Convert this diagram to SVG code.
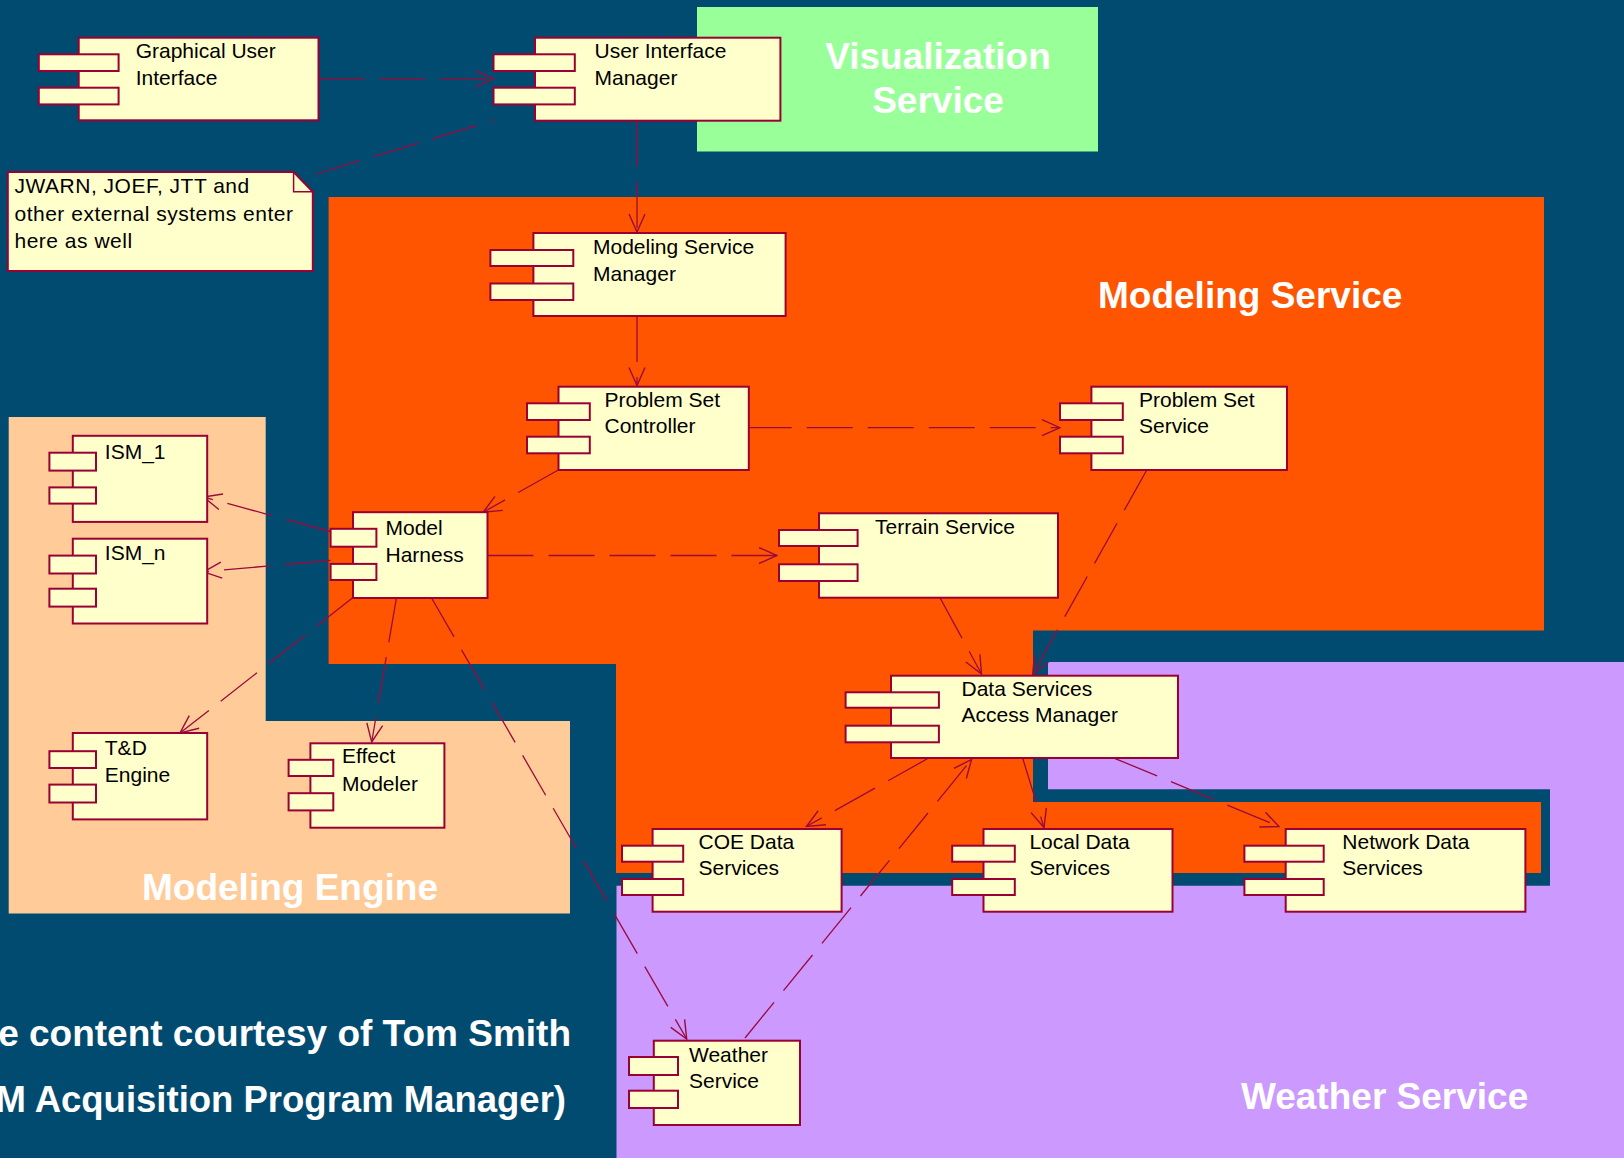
<svg xmlns="http://www.w3.org/2000/svg" width="1624" height="1158" viewBox="0 0 1624 1158">
<defs>
<style>
.box{fill:#FFFFCC;stroke:#990033;stroke-width:2}
.t{font-family:"Liberation Sans",Arial,sans-serif;font-size:21px;fill:#000}
.note{font-family:"Liberation Sans",Arial,sans-serif;font-size:21px;fill:#000;letter-spacing:0.5px}
.region{font-family:"Liberation Sans",Arial,sans-serif;font-weight:bold;fill:#FFFFFF}
.c{fill:none;stroke:#9B0A3C;stroke-width:1.3;stroke-dasharray:46 15}
.ca{fill:none;stroke:#9B0A3C;stroke-width:1.3;stroke-dasharray:46 15;marker-end:url(#arr)}
</style>
<marker id="arr" viewBox="0 0 20 18" refX="19" refY="9" markerWidth="20" markerHeight="18" markerUnits="userSpaceOnUse" orient="auto">
<path d="M1,1 L19,9 L1,17" fill="none" stroke="#9B0A3C" stroke-width="1.4"/>
</marker>
</defs>

<rect x="0" y="0" width="1624" height="1158" fill="#024B70"/>

<g id="regions">
<rect id="visualization-region" x="697" y="7" width="401" height="144.5" fill="#99FF99"/>
<polygon id="modeling-service-region" points="328.6,197 1544,197 1544,630.5 1033,630.5 1033,802 1541,802 1541,873 616,873 616,664 328.6,664" fill="#FF5500"/>
<polygon id="weather-region" points="1048,662 1624,662 1624,1158 616.5,1158 616.5,885.7 1550,885.7 1550,789.3 1048,789.3" fill="#CC99FF"/>
<polygon id="modeling-engine-region" points="8.7,417 265.7,417 265.7,721 570,721 570,913.5 8.7,913.5" fill="#FFCC99"/>
<text class="region" x="938" y="69" font-size="37" text-anchor="middle">Visualization</text>
<text class="region" x="938" y="112.7" font-size="37" text-anchor="middle">Service</text>
<text class="region" x="1098" y="308" font-size="37">Modeling Service</text>
<text class="region" x="142" y="900" font-size="37">Modeling Engine</text>
<text class="region" x="1241" y="1109" font-size="37">Weather Service</text>
<text class="region" x="571" y="1045.7" font-size="37" text-anchor="end">e content courtesy of Tom Smith</text>
<text class="region" x="566" y="1111.7" font-size="36.5" text-anchor="end">M Acquisition Program Manager)</text>
</g>

<g id="connectors">
<line class="ca" x1="318.5" y1="78.7" x2="493.5" y2="78.7"/>
<line class="c" x1="316" y1="174" x2="494.5" y2="120"/>
<line class="ca" x1="637" y1="120.7" x2="637" y2="232"/>
<line class="ca" x1="637" y1="316" x2="637" y2="385.5"/>
<line class="ca" x1="745.7" y1="427.7" x2="1060" y2="427.7"/>
<line class="ca" x1="558.3" y1="470" x2="483.2" y2="512.2"/>
<line class="ca" x1="330.6" y1="531.5" x2="203.6" y2="497"/>
<line class="ca" x1="330.6" y1="560.4" x2="203.6" y2="571.8"/>
<line class="ca" x1="353" y1="597.6" x2="180" y2="733"/>
<line class="ca" x1="396.6" y1="597" x2="371.7" y2="742"/>
<line class="ca" x1="487.5" y1="555.5" x2="777" y2="555.5"/>
<line class="ca" x1="431" y1="597" x2="686.7" y2="1039"/>
<line class="ca" x1="940" y1="597.7" x2="981.5" y2="674"/>
<line class="ca" x1="1146.8" y1="470" x2="1032.7" y2="674"/>
<line class="ca" x1="928.2" y1="758.3" x2="806.4" y2="826.5"/>
<line class="ca" x1="1022.7" y1="758.3" x2="1044" y2="827.5"/>
<line class="ca" x1="1114.6" y1="758.3" x2="1279" y2="826.5"/>
<line class="ca" x1="745" y1="1038" x2="971.5" y2="759.5"/>
</g>

<g id="gui">
<rect class="box" x="78.7" y="37.7" width="239.8" height="82.6"/>
<rect class="box" x="38.8" y="54.3" width="79.8" height="16.7"/>
<rect class="box" x="38.8" y="87.7" width="79.8" height="16.7"/>
<text class="t" x="135.7" y="58">Graphical User</text>
<text class="t" x="135.7" y="85">Interface</text>
</g>

<g id="uim">
<rect class="box" x="535" y="37.7" width="245.4" height="83"/>
<rect class="box" x="493.5" y="54.3" width="81.3" height="16.7"/>
<rect class="box" x="493.5" y="87.7" width="81.3" height="16.7"/>
<text class="t" x="594.5" y="58">User Interface</text>
<text class="t" x="594.5" y="85">Manager</text>
</g>

<g id="note">
<path class="box" d="M7.8,172 L293.6,172 L312.8,191.7 L312.8,271 L7.8,271 Z"/>
<path d="M293.6,172 L293.6,191.7 L312.8,191.7" fill="none" stroke="#990033" stroke-width="1.5"/>
<text class="note" x="14.5" y="193">JWARN, JOEF, JTT and</text>
<text class="note" x="14.5" y="220.5">other external systems enter</text>
<text class="note" x="14.5" y="248">here as well</text>
</g>

<g id="msm">
<rect class="box" x="533.4" y="233" width="252.2" height="83"/>
<rect class="box" x="490.4" y="250" width="82.9" height="16"/>
<rect class="box" x="490.4" y="283.5" width="82.9" height="16.5"/>
<text class="t" x="593" y="253.5">Modeling Service</text>
<text class="t" x="593" y="280.5">Manager</text>
</g>

<g id="psc">
<rect class="box" x="558.5" y="386.7" width="190.3" height="83.3"/>
<rect class="box" x="527" y="403.3" width="62.8" height="16.7"/>
<rect class="box" x="527" y="436.7" width="62.8" height="16.6"/>
<text class="t" x="604.5" y="406.7">Problem Set</text>
<text class="t" x="604.5" y="433.3">Controller</text>
</g>

<g id="pss">
<rect class="box" x="1091.4" y="386.7" width="195.6" height="83.3"/>
<rect class="box" x="1060" y="403.3" width="62.8" height="16.7"/>
<rect class="box" x="1060" y="436.7" width="62.8" height="16.6"/>
<text class="t" x="1139" y="406.7">Problem Set</text>
<text class="t" x="1139" y="433.3">Service</text>
</g>

<g id="terrain">
<rect class="box" x="819" y="513.3" width="239" height="84.4"/>
<rect class="box" x="779" y="530" width="78.6" height="16"/>
<rect class="box" x="779" y="564.3" width="78.6" height="16.7"/>
<text class="t" x="875" y="534">Terrain Service</text>
</g>

<g id="model-harness">
<rect class="box" x="353" y="512.2" width="134.5" height="85.8"/>
<rect class="box" x="330.6" y="528.8" width="45.8" height="17.9"/>
<rect class="box" x="330.6" y="563.9" width="45.8" height="16.1"/>
<text class="t" x="385.5" y="534.5">Model</text>
<text class="t" x="385.5" y="561.5">Harness</text>
</g>

<g id="ism-1">
<rect class="box" x="72.8" y="435.8" width="134.4" height="86.1"/>
<rect class="box" x="49.4" y="452.7" width="46.6" height="17.9"/>
<rect class="box" x="49.4" y="487.4" width="46.6" height="16.2"/>
<text class="t" x="104.8" y="459">ISM_1</text>
</g>

<g id="ism-n">
<rect class="box" x="72.8" y="538.7" width="134.4" height="84.8"/>
<rect class="box" x="49.4" y="555.6" width="46.6" height="17.9"/>
<rect class="box" x="49.4" y="588.7" width="46.6" height="17.9"/>
<text class="t" x="104.8" y="559.7">ISM_n</text>
</g>

<g id="td-engine">
<rect class="box" x="72.8" y="733" width="134.4" height="86.4"/>
<rect class="box" x="49.4" y="751.2" width="46.6" height="16.8"/>
<rect class="box" x="49.4" y="784.6" width="46.6" height="17.9"/>
<text class="t" x="104.8" y="755.3">T&amp;D</text>
<text class="t" x="104.8" y="782.2">Engine</text>
</g>

<g id="effect-modeler">
<rect class="box" x="310.4" y="743.3" width="134" height="84.4"/>
<rect class="box" x="288.6" y="759.8" width="44.7" height="16.2"/>
<rect class="box" x="288.6" y="793.2" width="44.7" height="17.2"/>
<text class="t" x="342" y="763.3">Effect</text>
<text class="t" x="342" y="790.5">Modeler</text>
</g>

<g id="dsam">
<rect class="box" x="891" y="675.7" width="287" height="82.3"/>
<rect class="box" x="845.6" y="692.3" width="93.3" height="15.4"/>
<rect class="box" x="845.6" y="725.7" width="93.3" height="16.6"/>
<text class="t" x="961.5" y="695.5">Data Services</text>
<text class="t" x="961.5" y="722">Access Manager</text>
</g>

<g id="coe">
<rect class="box" x="652.6" y="829" width="189" height="82.7"/>
<rect class="box" x="622" y="845.7" width="61.2" height="16"/>
<rect class="box" x="622" y="879" width="61.2" height="16"/>
<text class="t" x="698.5" y="848.5">COE Data</text>
<text class="t" x="698.5" y="875">Services</text>
</g>

<g id="local">
<rect class="box" x="983.5" y="829" width="189" height="82.7"/>
<rect class="box" x="952.2" y="845.7" width="62.6" height="16"/>
<rect class="box" x="952.2" y="879" width="62.6" height="16"/>
<text class="t" x="1029.4" y="848.5">Local Data</text>
<text class="t" x="1029.4" y="875">Services</text>
</g>

<g id="network">
<rect class="box" x="1285.7" y="829" width="239.7" height="82.7"/>
<rect class="box" x="1244.4" y="845.7" width="79.3" height="16"/>
<rect class="box" x="1244.4" y="879" width="79.3" height="16"/>
<text class="t" x="1342.3" y="848.5">Network Data</text>
<text class="t" x="1342.3" y="875">Services</text>
</g>

<g id="weather">
<rect class="box" x="653.8" y="1040.7" width="146.2" height="84.3"/>
<rect class="box" x="629" y="1057" width="49" height="18"/>
<rect class="box" x="629" y="1090.7" width="49" height="17.3"/>
<text class="t" x="689" y="1061.7">Weather</text>
<text class="t" x="689" y="1087.7">Service</text>
</g>
</svg>
